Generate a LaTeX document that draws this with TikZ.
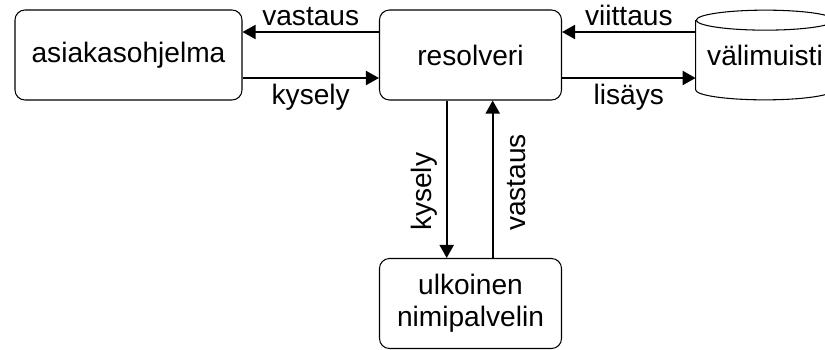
\documentclass[tikz,border=0pt]{standalone}
\usepackage{fontspec}
\setmainfont{Liberation Sans}
\usetikzlibrary{positioning,arrows.meta}

\begin{document}
\begin{tikzpicture}[node distance = 6.84cm, auto, font=\fontsize{16}{18}\selectfont,
    laatikko/.style={rectangle, draw, line width=0.6pt, rounded corners=0.2cm, text centered, minimum height=1.8cm},
    nuoli/.style={draw, line width=1.1pt, -{Triangle[length=0.26cm,width=0.28cm]}},
    selite/.style={inner sep=3pt}]
    \useasboundingbox (-2.57,1.1) rectangle (13.93,-5.88);
    % Place nodes
    \node [laatikko, minimum width=4.54cm] (asiakas) {asiakasohjelma};
    \node [laatikko, minimum width=3.64cm, right of=asiakas] (resolveri) {resolveri};
    \node [minimum width=2.76cm, minimum height=1.78cm, right of=resolveri, node distance=5.89cm] (muisti) {välimuisti};
    \node [laatikko, text width=3.2cm, minimum width=3.64cm, below of=resolveri, node distance=4.97cm] (ulkoinen) {ulkoinen\\nimipalvelin};

    % Cylinder round the cache
    \draw [line width=0.6pt] ([yshift=-0.2cm]muisti.north west) -- ([yshift=0.2cm]muisti.south west)
        arc [start angle=180, end angle=360, x radius=1.38cm, y radius=0.2cm]
        -- ([yshift=-0.2cm]muisti.north east)
        arc [start angle=0, end angle=180, x radius=1.38cm, y radius=0.2cm]
        arc [start angle=180, end angle=360, x radius=1.38cm, y radius=0.2cm];

    % Connectors
    \path [nuoli] ([yshift=0.46cm]resolveri.west) -- node [selite, above] {vastaus} ([yshift=0.46cm]asiakas.east);
    \path [nuoli] ([yshift=-0.46cm]asiakas.east) -- node [selite, below] {kysely} ([yshift=-0.46cm]resolveri.west);
    \path [nuoli] ([yshift=0.46cm]muisti.west) -- node [selite, above] {viittaus} ([yshift=0.46cm]resolveri.east);
    \path [nuoli] ([yshift=-0.46cm]resolveri.east) -- node [selite, below] {lisäys} ([yshift=-0.46cm]muisti.west);
    \path [nuoli] ([xshift=-0.476cm]resolveri.south) -- node [pos=0.58, rotate=90, anchor=south, inner sep=4.5pt] {kysely} ([xshift=-0.476cm]ulkoinen.north);
    \path [nuoli] ([xshift=0.444cm]ulkoinen.north) -- node [pos=0.48, rotate=90, anchor=north, inner sep=7.5pt] {vastaus} ([xshift=0.444cm]resolveri.south);
\end{tikzpicture}
\end{document}
